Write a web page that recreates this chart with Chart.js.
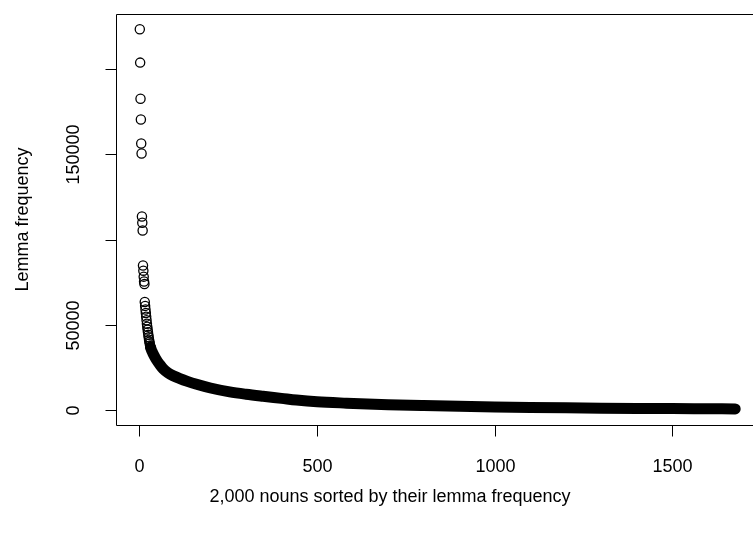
<!DOCTYPE html>
<html>
<head>
<meta charset="utf-8">
<script src="https://cdn.jsdelivr.net/npm/chart.js@4/dist/chart.umd.min.js"></script>
<style>
  html, body { margin: 0; padding: 0; background: #fff; overflow: hidden; }
  canvas { display: block; }
</style>
</head>
<body>
<canvas id="chart" width="770" height="534"></canvas>
<script>
// top-ranked nouns, drawn as separate circles
const headRanks = [1, 2, 3, 4, 5, 6, 7, 8, 9, 10, 11, 12, 13, 14, 15, 16, 17, 18, 19, 20, 21, 22, 23, 24, 25, 26, 27, 28, 29, 30, 31];
const headFreq = [223500, 203900, 182700, 170500, 156400, 150500, 113500, 109800, 105300, 84700, 81700, 78200, 75300, 73900,
  63300, 61000, 58900, 56800, 54700, 52600, 50500, 48800, 47100, 45500, 44000, 42600, 41200, 40000, 38900, 37800, 36800];

// the long tail, where the circles merge into one solid band
const tailRanks = [31, 34, 37, 42, 48, 56, 67, 80, 95, 114, 135, 161, 200, 254, 300, 348, 400, 442, 500, 583, 700, 800, 900, 1000, 1100, 1200, 1300, 1400, 1500, 1600, 1677];
const tailFreq = [36800, 35000, 33600, 31500, 29300, 26900, 24000, 21800, 20000, 18300, 16700, 15000, 12800, 10500, 9100, 7900, 6700, 5700, 4700, 3900, 3000, 2450, 2000, 1650, 1380, 1150, 970, 820, 700, 600, 520];

const xTicks = [0, 500, 1000, 1500];
const yTicks = [0, 50000, 100000, 150000, 200000];
const yTickLabels = ['0', '50000', '', '150000', ''];

const FONT = '18px "Liberation Sans", Arial, Helvetica, sans-serif';

const axesPlugin = {
  id: 'rAxes',
  afterDraw(chart) {
    const { ctx, chartArea: a, scales } = chart;
    const x = scales.x, y = scales.y;
    ctx.save();
    ctx.strokeStyle = '#000';
    ctx.lineWidth = 1;
    const L = Math.round(a.left) + 0.5, T = Math.round(a.top) + 0.5;
    const R = Math.round(a.right) + 0.5, B = Math.round(a.bottom) + 0.5;
    ctx.beginPath();
    ctx.rect(L, T, R - L, B - T);
    ctx.stroke();

    ctx.fillStyle = '#000';
    ctx.font = FONT;
    ctx.textAlign = 'center';
    ctx.textBaseline = 'middle';

    xTicks.forEach(v => {
      const px = Math.round(x.getPixelForValue(v)) + 0.5;
      ctx.beginPath();
      ctx.moveTo(px, B);
      ctx.lineTo(px, B + 11);
      ctx.stroke();
      ctx.fillText(String(v), px, 467);
    });

    yTicks.forEach((v, i) => {
      const py = Math.round(y.getPixelForValue(v)) + 0.5;
      ctx.beginPath();
      ctx.moveTo(L, py);
      ctx.lineTo(L - 11, py);
      ctx.stroke();
      if (yTickLabels[i]) {
        ctx.save();
        ctx.translate(74, py);
        ctx.rotate(-Math.PI / 2);
        ctx.fillText(yTickLabels[i], 0, 0);
        ctx.restore();
      }
    });

    ctx.fillText('2,000 nouns sorted by their lemma frequency', 390, 497);
    ctx.save();
    ctx.translate(23, (a.top + a.bottom) / 2);
    ctx.rotate(-Math.PI / 2);
    ctx.fillText('Lemma frequency', 0, 0);
    ctx.restore();
    ctx.restore();
  }
};

new Chart(document.getElementById('chart').getContext('2d'), {
  type: 'scatter',
  data: {
    datasets: [
      {
        data: tailRanks.map((r, i) => ({ x: r, y: tailFreq[i] })),
        showLine: true,
        borderColor: '#000',
        borderWidth: 11,
        borderCapStyle: 'round',
        borderJoinStyle: 'round',
        cubicInterpolationMode: 'monotone',
        pointRadius: 0,
        pointHoverRadius: 0
      },
      {
        data: headRanks.map((r, i) => ({ x: r, y: headFreq[i] })),
        pointStyle: 'circle',
        pointRadius: 4.6,
        pointBorderWidth: 1.3,
        pointBorderColor: '#000',
        pointBackgroundColor: 'rgba(0,0,0,0)',
        pointHoverRadius: 4.6
      }
    ]
  },
  options: {
    responsive: false,
    animation: false,
    devicePixelRatio: 1,
    layout: { padding: { left: 116, right: 11, top: 14, bottom: 109 } },
    scales: {
      x: { type: 'linear', display: false, min: -66, max: 1744 },
      y: { type: 'linear', display: false, min: -8940, max: 232440 }
    },
    plugins: {
      legend: { display: false },
      tooltip: { enabled: false }
    }
  },
  plugins: [axesPlugin]
});
</script>
</body>
</html>
